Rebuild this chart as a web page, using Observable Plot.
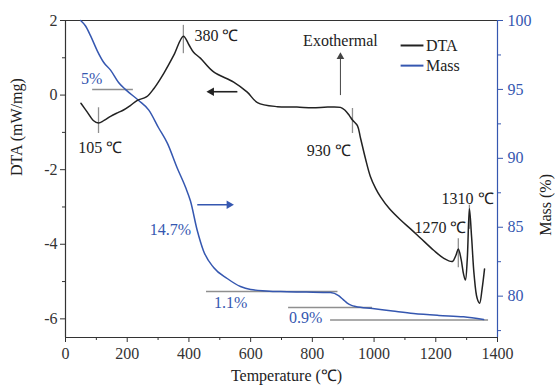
<!DOCTYPE html>
<html>
<head>
<meta charset="utf-8">
<script src="https://cdn.jsdelivr.net/npm/d3@7"></script>
<script src="https://cdn.jsdelivr.net/npm/@observablehq/plot@0.6"></script>
<style>
  html, body { margin: 0; padding: 0; background: #fff; }
  #chart svg { display: block; }
</style>
</head>
<body>
<div id="chart"></div>
<script>
// ---- data ----
const dtaTemp = [50, 70, 90, 107, 125, 146, 170, 188, 210, 233, 262, 286, 319, 351, 382, 400, 415, 437, 480, 545, 589, 622, 687, 750, 800, 850, 891, 905, 920, 930, 946, 956, 972, 988, 1005, 1021, 1050, 1086, 1120, 1150, 1193, 1225, 1254, 1265, 1273, 1282, 1290, 1296, 1302, 1309, 1316, 1324, 1334, 1342, 1350, 1358];
const dtaValue = [-0.22, -0.45, -0.68, -0.75, -0.68, -0.57, -0.47, -0.40, -0.28, -0.14, -0.05, 0.17, 0.59, 1.07, 1.58, 1.35, 1.15, 0.99, 0.62, 0.35, 0.08, -0.20, -0.31, -0.32, -0.34, -0.32, -0.33, -0.40, -0.55, -0.67, -0.82, -1.15, -1.70, -2.18, -2.50, -2.73, -3.05, -3.35, -3.60, -3.83, -4.16, -4.37, -4.46, -4.30, -4.13, -4.40, -4.80, -4.96, -4.40, -3.05, -3.80, -4.80, -5.45, -5.58, -5.20, -4.66];

const massTemp = [49, 65, 81, 103, 124, 146, 172, 194, 237, 270, 302, 330, 362, 389, 405, 427, 447, 480, 524, 567, 600, 650, 697, 780, 859, 885, 900, 913, 927, 940, 995, 1060, 1128, 1210, 1290, 1355];
const massValue = [100, 99.6, 98.9, 97.8, 96.95, 96.4, 95.5, 95.0, 94.2, 93.5, 92.2, 91.1, 89.3, 87.9, 86.9, 84.76, 83.3, 82.08, 81.28, 80.7, 80.48, 80.38, 80.33, 80.30, 80.26, 80.04, 79.75, 79.5, 79.33, 79.25, 79.10, 78.92, 78.74, 78.6, 78.5, 78.3];

const xTicks = [0, 200, 400, 600, 800, 1000, 1200, 1400];
const xMinor = [100, 300, 500, 700, 900, 1100, 1300];
const dtaTicks = [-6, -4, -2, 0, 2];
const dtaMinor = [-5, -3, -1, 1];
const massTicks = [80, 85, 90, 95, 100];
const massMinor = [77.5, 82.5, 87.5, 92.5, 97.5];

// peak markers (temperature, DTA span)
const peakTemp = [107, 382, 930, 1273, 1309];
const peakTop = [-0.34, 1.87, -0.36, -3.85, -2.95];
const peakBottom = [-1.03, 1.11, -1.03, -4.63, -3.6];

// peak labels
const peakLabel = ["105 ℃", "380 ℃", "930 ℃", "1270 ℃", "1310 ℃"];
const peakLabelTemp = [113, 418, 853, 1215, 1303];
const peakLabelDta = [-1.41, 1.60, -1.49, -3.56, -2.78];
const peakLabelLeftAligned = [false, true, false, false, false];

// mass-loss step lines (temperature range, mass level)
const stepFrom = [88, 457, 723, 859];
const stepTo = [220, 883, 995, 1371];
const stepMass = [95, 80.33, 79.17, 78.27];

// mass-loss labels
const lossLabel = ["5%", "14.7%", "1.1%", "0.9%"];
const lossTemp = [85, 340, 535, 778];
const lossDta = [0.44, -3.61, -5.57, -5.97];

const seriesNames = ["DTA", "Mass"];

// ---- helpers ----
const blue = "#3557b0";
const dark = "#222";
const gray = "#8f8f8f";
const massToY = m => -6.5 + (m - 77) * 8.5 / 23;
const yToMass = y => 77 + (y + 6.5) * 23 / 8.5;

const dta = dtaTemp.map((t, i) => ({t, v: dtaValue[i]}));
const mass = massTemp.map((t, i) => ({t, v: massToY(massValue[i])}));
const peaks = peakTemp.map((t, i) => ({t, y1: peakTop[i], y2: peakBottom[i]}));
const peakTexts = peakLabel.map((s, i) => ({s, t: peakLabelTemp[i], v: peakLabelDta[i], left: peakLabelLeftAligned[i]}));
const steps = stepMass.map((m, i) => ({x1: stepFrom[i], x2: stepTo[i], y: massToY(m)}));
const lossTexts = lossLabel.map((s, i) => ({s, t: lossTemp[i], v: lossDta[i]}));

// arrows (annotation positions in data space)
const arrows = [
  {x1: 557, y1: 0.09, x2: 473, y2: 0.09, tipRot: -90, color: dark, w: 1.6, r: 3.6},
  {x1: 427, y1: -2.94, x2: 530, y2: -2.94, tipRot: 90, color: blue, w: 1.4, r: 3.4},
  {x1: 891, y1: 0.0, x2: 891, y2: 1.03, tipRot: 0, color: "#444", w: 1, r: 2.8}
];
const legend = [
  {name: seriesNames[0], y: 1.33, color: dark},
  {name: seriesNames[1], y: 0.79, color: blue}
];

const chart = Plot.plot({
  width: 557,
  height: 391,
  marginLeft: 65,
  marginRight: 60,
  marginTop: 20,
  marginBottom: 54,
  style: {fontFamily: "'Liberation Serif', 'Times New Roman', serif", fontSize: "16px", background: "#fff"},
  x: {domain: [0, 1400], label: null},
  y: {domain: [-6.5, 2], label: null},
  marks: [
    // frame
    Plot.ruleY([2], {stroke: "#333", strokeWidth: 1.2}),
    Plot.ruleY([-6.5], {stroke: "#333", strokeWidth: 1.2}),
    Plot.ruleX([0], {stroke: "#333", strokeWidth: 1.2}),
    Plot.ruleX([1400], {stroke: blue, strokeWidth: 1.2}),
    // axes
    Plot.axisX(xTicks, {tickSize: 5, tickPadding: 5, fontSize: 16, tickFormat: d => String(d), stroke: "#333", fill: "#333"}),
    Plot.axisX(xMinor, {tickSize: 3, tickFormat: () => "", stroke: "#333"}),
    Plot.axisY(dtaTicks, {anchor: "left", tickSize: 5, tickPadding: 3, fontSize: 16, tickFormat: d => String(d), stroke: "#333", fill: "#333"}),
    Plot.axisY(dtaMinor, {anchor: "left", tickSize: 3, tickFormat: () => "", stroke: "#333"}),
    Plot.axisY(massTicks.map(massToY), {anchor: "right", tickSize: 5, tickPadding: 5, fontSize: 16, tickFormat: d => String(Math.round(yToMass(d))), stroke: blue, fill: blue}),
    Plot.axisY(massMinor.map(massToY), {anchor: "right", tickSize: 3, tickFormat: () => "", stroke: blue}),
    // axis titles
    Plot.text(["Temperature (℃)"], {frameAnchor: "bottom", dy: 43, dx: 5, text: d => d, fontSize: 16, fill: "#222"}),
    Plot.text(["DTA (mW/mg)"], {frameAnchor: "left", dx: -49, dy: -3, rotate: -90, text: d => d, fontSize: 16, fill: "#222"}),
    Plot.text(["Mass (%)"], {frameAnchor: "right", dx: 48, dy: -5, rotate: -90, text: d => d, fontSize: 16, fill: "#222"}),
    // annotation lines
    Plot.ruleX(peaks, {x: "t", y1: "y1", y2: "y2", stroke: gray, strokeWidth: 1.3}),
    Plot.ruleY(steps, {x1: "x1", x2: "x2", y: "y", stroke: gray, strokeWidth: 1.5}),
    // series
    Plot.line(mass, {x: "t", y: "v", stroke: blue, strokeWidth: 1.5, curve: "monotone-x"}),
    Plot.line(dta, {x: "t", y: "v", stroke: dark, strokeWidth: 1.5, curve: "catmull-rom"}),
    // arrows
    Plot.link(arrows, {x1: "x1", y1: "y1", x2: "x2", y2: "y2", stroke: "color", strokeWidth: "w"}),
    Plot.dot(arrows, {x: "x2", y: "y2", symbol: "triangle", r: "r", fill: "color", stroke: "none", rotate: "tipRot"}),
    // labels
    Plot.text(peakTexts.filter(d => !d.left), {x: "t", y: "v", text: "s", textAnchor: "middle", fontSize: 16, fill: "#222"}),
    Plot.text(peakTexts.filter(d => d.left), {x: "t", y: "v", text: "s", textAnchor: "start", fontSize: 16, fill: "#222"}),
    Plot.text(lossTexts, {x: "t", y: "v", text: "s", fontSize: 16, fill: blue}),
    Plot.text(["Exothermal"], {x: 891, y: 1.46, text: d => d, fontSize: 16, fill: "#222"}),
    // legend
    Plot.link(legend, {x1: 1086, x2: 1160, y1: "y", y2: "y", stroke: "color", strokeWidth: 2}),
    Plot.text(legend, {x: 1168, y: "y", text: "name", textAnchor: "start", fontSize: 16, fill: "#222"})
  ]
});
document.getElementById("chart").appendChild(chart);
</script>
</body>
</html>
